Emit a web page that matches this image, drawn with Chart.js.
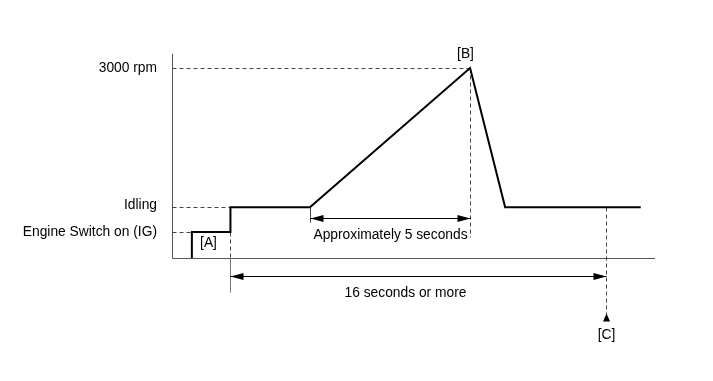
<!DOCTYPE html>
<html>
<head>
<meta charset="utf-8">
<script src="https://cdn.jsdelivr.net/npm/chart.js@4/dist/chart.umd.min.js"></script>
<style>
  html, body { margin: 0; padding: 0; background: #fff; }
  #wrap { width: 713px; height: 381px; }
</style>
</head>
<body>
<div id="wrap"><canvas id="rpmchart"></canvas></div>
<script>
// engine speed profile (schematic), time in seconds, speed in rpm
const timeSec = [0.85, 0.85, 2.5, 2.5, 5.9, 12.75, 14.25, 20.05];
const engineRpm = [0, 410, 410, 800, 800, 3000, 800, 800];

const levelLabels = ['3000 rpm', 'Idling', 'Engine Switch on (IG)'];
const levelValues = [3000, 800, 410];

const markerLabels = ['[A]', '[B]', '[C]'];
const markerTimes = [2.5, 12.75, 18.55];

const spanLabels = ['Approximately 5 seconds', '16 seconds or more'];
const spanStart = [5.9, 2.5];
const spanEnd = [12.75, 18.55];

const FONT = '13.8px "Liberation Sans", Arial, sans-serif';

const drawArrowHead = (ctx, x, y, dir) => {
    // dir = 1 points right, -1 points left
    ctx.beginPath();
    ctx.moveTo(x, y);
    ctx.lineTo(x - dir * 13, y - 3.5);
    ctx.lineTo(x - dir * 13, y + 3.5);
    ctx.closePath();
    ctx.fill();
};

const dashLine = (ctx, x1, y1, x2, y2, dashed, color) => {
    ctx.save();
    ctx.strokeStyle = color || '#444';
    ctx.lineWidth = 1;
    ctx.setLineDash(dashed ? [4, 3] : []);
    ctx.beginPath();
    ctx.moveTo(x1, y1);
    ctx.lineTo(x2, y2);
    ctx.stroke();
    ctx.restore();
};

const diagramPlugin = {
    id: 'diagram',
    beforeDatasetsDraw(chart) {
        const ctx = chart.ctx;
        const xs = chart.scales.x;
        const ys = chart.scales.y;
        const area = chart.chartArea;
        const x0 = Math.round(xs.getPixelForValue(0)) + 0.5;
        const y0 = Math.round(ys.getPixelForValue(0)) + 0.5;
        const px = (t) => Math.round(xs.getPixelForValue(t)) + 0.5;
        const py = (v) => Math.round(ys.getPixelForValue(v)) + 0.5;

        // axes
        dashLine(ctx, x0, area.top, x0, y0, false, '#555');
        dashLine(ctx, x0, y0, area.right, y0, false, '#555');

        // level guide lines
        dashLine(ctx, x0, py(levelValues[0]), px(markerTimes[1]), py(levelValues[0]), true);
        dashLine(ctx, x0, py(levelValues[1]), px(markerTimes[0]), py(levelValues[1]), true);
        dashLine(ctx, x0, py(levelValues[2]), px(timeSec[0]), py(levelValues[2]), true);

        // [A] vertical
        dashLine(ctx, px(markerTimes[0]), py(levelValues[2]), px(markerTimes[0]), y0, true);
        dashLine(ctx, px(markerTimes[0]), y0, px(markerTimes[0]), y0 + 34, false, '#777');

        // [B] vertical
        dashLine(ctx, px(markerTimes[1]), py(levelValues[0]), px(markerTimes[1]), y0 - 21, true);

        // start of ramp extension
        dashLine(ctx, px(spanStart[0]), py(levelValues[1]), px(spanStart[0]), py(levelValues[1]) + 15, false, '#444');

        // [C] vertical
        const cx = px(markerTimes[2]);
        dashLine(ctx, cx, py(levelValues[1]), cx, y0 + 56, true);
    },
    afterDatasetsDraw(chart) {
        const ctx = chart.ctx;
        const xs = chart.scales.x;
        const ys = chart.scales.y;
        const x0 = xs.getPixelForValue(0);
        const y0 = Math.round(ys.getPixelForValue(0)) + 0.5;
        const px = (t) => Math.round(xs.getPixelForValue(t)) + 0.5;
        const py = (v) => Math.round(ys.getPixelForValue(v)) + 0.5;

        ctx.save();
        ctx.font = FONT;
        ctx.fillStyle = '#000';
        ctx.textBaseline = 'middle';

        // level labels left of the axis
        ctx.textAlign = 'right';
        levelLabels.forEach((label, i) => {
            const off = i === 1 ? -2 : 0;
            ctx.fillText(label, x0 - 15, py(levelValues[i]) + off);
        });

        // markers
        ctx.textAlign = 'center';
        ctx.fillText(markerLabels[0], px(markerTimes[0]) - 22, py(levelValues[2]) + 11);
        ctx.fillText(markerLabels[1], px(markerTimes[1]) - 5, py(levelValues[0]) - 14);
        ctx.fillText(markerLabels[2], px(markerTimes[2]), y0 + 77);

        // [C] arrow tip
        const cx = px(markerTimes[2]);
        ctx.beginPath();
        ctx.moveTo(cx, y0 + 55);
        ctx.lineTo(cx - 3.5, y0 + 63);
        ctx.lineTo(cx + 3.5, y0 + 63);
        ctx.closePath();
        ctx.fill();

        // span arrows
        const spanY = [py(levelValues[1]) + 11, y0 + 18];
        const textY = [py(levelValues[1]) + 28, y0 + 35];
        const textShift = [0, -13];
        spanLabels.forEach((label, i) => {
            const a = px(spanStart[i]);
            const b = px(spanEnd[i]);
            ctx.strokeStyle = '#000';
            ctx.lineWidth = 1;
            ctx.setLineDash([]);
            ctx.beginPath();
            ctx.moveTo(a, spanY[i]);
            ctx.lineTo(b, spanY[i]);
            ctx.stroke();
            drawArrowHead(ctx, a, spanY[i], -1);
            drawArrowHead(ctx, b, spanY[i], 1);
            ctx.fillText(label, (a + b) / 2 + textShift[i], textY[i]);
        });
        ctx.restore();
    },
};

const points = timeSec.map((t, i) => ({ x: t, y: engineRpm[i] }));

const chart = new Chart(document.getElementById('rpmchart'), {
    type: 'scatter',
    data: {
        datasets: [
            {
                label: 'Engine speed',
                data: points,
                showLine: true,
                borderColor: '#000',
                borderWidth: 2,
                pointRadius: 0,
                tension: 0,
                fill: false,
            },
        ],
    },
    options: {
        responsive: true,
        maintainAspectRatio: false,
        animation: false,
        layout: { padding: { left: 172, right: 58, top: 54, bottom: 123 } },
        plugins: {
            legend: { display: false },
            tooltip: { enabled: false },
        },
        scales: {
            x: { type: 'linear', min: 0, max: 20.66, display: false },
            y: { type: 'linear', min: 0, max: 3221, display: false },
        },
    },
    plugins: [diagramPlugin],
});
</script>
</body>
</html>
